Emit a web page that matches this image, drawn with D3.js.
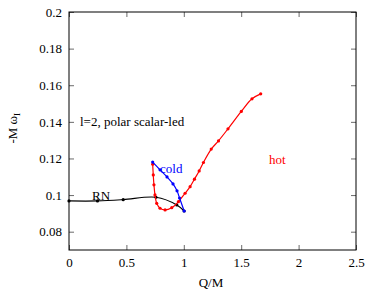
<!DOCTYPE html>
<html>
<head>
<meta charset="utf-8">
<script src="https://unpkg.com/d3@7/dist/d3.min.js"></script>
</head>
<body style="margin:0">
<div id="chart"></div>
<script>
const width = 378;
const height = 291;
const margin = {top: 12, right: 22, bottom: 41, left: 69};

// series: [Q/M, -M omega_I]
const rnQ = [0.0, 0.248, 0.472, 0.758, 0.939, 1.003];
const rnW = [0.0968, 0.0968, 0.0975, 0.0988, 0.0946, 0.0913];

const coldQ = [0.729, 0.793, 0.854, 0.906, 0.941, 0.963, 1.003];
const coldW = [0.1180, 0.1138, 0.1099, 0.1061, 0.1023, 0.0984, 0.0913];

const hotQ = [0.729, 0.734, 0.740, 0.749, 0.764, 0.793, 0.837, 0.895, 0.953, 1.011,
              1.055, 1.093, 1.134, 1.171, 1.239, 1.302, 1.385, 1.501, 1.594, 1.670];
const hotW = [0.1169, 0.1110, 0.1056, 0.1001, 0.0955, 0.0928, 0.0919, 0.0931, 0.0964, 0.1010,
              0.1046, 0.1087, 0.1132, 0.1178, 0.1251, 0.1296, 0.1362, 0.1457, 0.1526, 0.1553];

const xTicks = [0, 0.5, 1, 1.5, 2, 2.5];
const xTickLabels = ["0", "0.5", "1", "1.5", "2", "2.5"];
const yTicks = [0.08, 0.1, 0.12, 0.14, 0.16, 0.18, 0.2];
const yTickLabels = ["0.08", "0.1", "0.12", "0.14", "0.16", "0.18", "0.2"];

const svg = d3.select("#chart").append("svg")
    .attr("width", width)
    .attr("height", height)
    .attr("font-family", "Liberation Serif")
    .attr("font-size", 13);

const x = d3.scaleLinear().domain([0, 2.5]).range([margin.left, width - margin.right]);
const y = d3.scaleLinear().domain([0.07, 0.2]).range([height - margin.bottom, margin.top]);

// inward ticks on all four sides, gnuplot style
const tickLen = 5;
const xAxis = d3.axisBottom(x).tickValues(xTicks).tickFormat((d, i) => xTickLabels[i])
    .tickSizeInner(-tickLen).tickSizeOuter(0).tickPadding(8);
const yAxis = d3.axisLeft(y).tickValues(yTicks).tickFormat((d, i) => yTickLabels[i])
    .tickSizeInner(-tickLen).tickSizeOuter(0).tickPadding(7);

const axes = [
    svg.append("g").attr("transform", `translate(0, ${height - margin.bottom})`).call(xAxis),
    svg.append("g").attr("transform", `translate(${margin.left}, 0)`).call(yAxis),
    svg.append("g").attr("transform", `translate(0, ${margin.top})`)
        .call(d3.axisTop(x).tickValues(xTicks).tickFormat("").tickSizeInner(-tickLen).tickSizeOuter(0)),
    svg.append("g").attr("transform", `translate(${width - margin.right}, 0)`)
        .call(d3.axisRight(y).tickValues(yTicks).tickFormat("").tickSizeInner(-tickLen).tickSizeOuter(0))
];
// axis() puts its own sans-serif font on the group, drop it
axes.forEach(g => g.attr("font-family", null).attr("font-size", null));

svg.selectAll(".domain").remove();
svg.selectAll(".tick line").attr("stroke", "#444").attr("stroke-width", 0.8);
svg.selectAll(".tick text").attr("fill", "#000");

// frame
svg.append("rect")
    .attr("x", margin.left)
    .attr("y", margin.top)
    .attr("width", width - margin.left - margin.right)
    .attr("height", height - margin.top - margin.bottom)
    .attr("fill", "none")
    .attr("stroke", "#000")
    .attr("stroke-width", 1);

// axis titles
svg.append("text")
    .attr("x", 211)
    .attr("y", 287)
    .attr("text-anchor", "middle")
    .text("Q/M");

const yt = svg.append("text")
    .attr("transform", `translate(17, ${y(0.1365)}) rotate(-90)`)
    .attr("text-anchor", "middle");
yt.append("tspan").text("-M \u03c9");
yt.append("tspan").attr("font-size", 9).attr("dy", 3).text("I");

// curves
const line = d3.line()
    .x(d => x(d[0]))
    .y(d => y(d[1]))
    .curve(d3.curveCatmullRom);

function drawSeries(qs, ws, color) {
    const pts = qs.map((q, i) => [q, ws[i]]);
    svg.append("path")
        .attr("d", line(pts))
        .attr("fill", "none")
        .attr("stroke", color)
        .attr("stroke-width", 1.2);
    svg.append("g").selectAll("circle")
        .data(pts).enter()
        .append("circle")
        .attr("cx", d => x(d[0]))
        .attr("cy", d => y(d[1]))
        .attr("r", 1.6)
        .attr("fill", color);
}

drawSeries(rnQ, rnW, "#000");
drawSeries(hotQ, hotW, "#ff0000");
drawSeries(coldQ, coldW, "#0000ff");

// labels
function label(px, py, txt, color) {
    svg.append("text")
        .attr("x", px).attr("y", py)
        .attr("fill", color)
        .text(txt);
}
label(80, 126, "l=2, polar scalar-led", "#000");
label(160, 173, "cold", "#0000ff");
label(269, 164, "hot", "#ff0000");
label(92, 200, "RN", "#000");
</script>
</body>
</html>
